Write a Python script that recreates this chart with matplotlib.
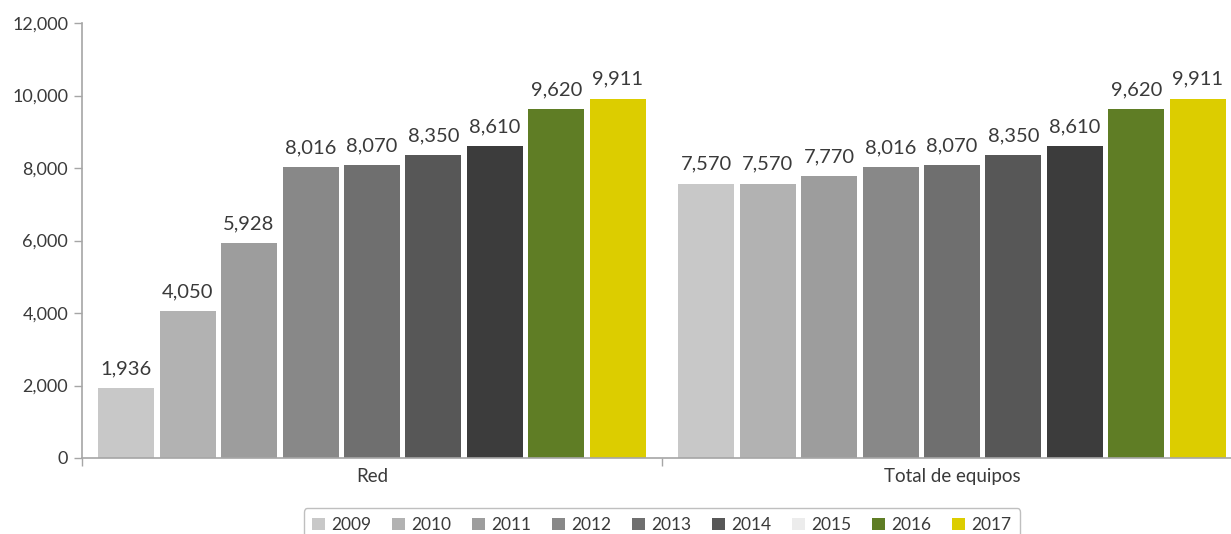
import numpy as np
import matplotlib
matplotlib.use("Agg")
import matplotlib.pyplot as plt
from matplotlib.patches import Patch
from matplotlib.ticker import FuncFormatter

plt.rcParams['font.family'] = ['Lato', 'DejaVu Sans']

# Data
categories = ['Red', 'Total de equipos']
years = ['2009', '2010', '2011', '2012', '2013', '2014', '2015', '2016', '2017']
red = [1936, 4050, 5928, 8016, 8070, 8350, 8610, 9620, 9911]
total = [7570, 7570, 7770, 8016, 8070, 8350, 8610, 9620, 9911]
series = [red, total]

bar_colors = ['#c8c8c8', '#b2b2b2', '#9d9d9d', '#888888', '#6f6f6f',
              '#575757', '#3c3c3c', '#5f7d25', '#dccd00']
legend_colors = ['#c8c8c8', '#b2b2b2', '#9d9d9d', '#888888', '#6f6f6f',
                 '#575757', '#ececec', '#5f7d25', '#dccd00']

text_color = '#3a3a3a'
axis_color = '#a6a6a6'

W, H = 1231, 534
fig = plt.figure(figsize=(W / 100, H / 100), dpi=100)
ax = fig.add_axes([82 / W, (H - 458) / H, 1160 / W, 435 / H])

slot = 0.106
width = 0.0966
n = len(years)
for g, vals in enumerate(series):
    for i, v in enumerate(vals):
        x = g + 0.5 + (i - (n - 1) / 2) * slot
        ax.bar(x, v, width=width, color=bar_colors[i], linewidth=0, zorder=2)
        ax.text(x, v + 300, f'{v:,}', ha='center', va='bottom',
                fontsize=14.5, color=text_color)

ax.set_xlim(0, 2)
ax.set_ylim(0, 12000)

# y axis
ax.set_yticks(np.arange(0, 12001, 2000))
ax.yaxis.set_major_formatter(FuncFormatter(lambda v, p: f'{int(v):,}'))
ax.tick_params(axis='y', direction='out', length=6, width=1, color=axis_color,
               labelsize=13, labelcolor=text_color, pad=4)

# x axis: boundary ticks, category labels between them
ax.set_xticks([0, 1, 2])
ax.set_xticklabels(['', '', ''])
ax.set_xticks([0.5, 1.5], minor=True)
ax.set_xticklabels(categories, minor=True)
ax.tick_params(axis='x', which='major', direction='out', length=6, width=1,
               color=axis_color)
ax.tick_params(axis='x', which='minor', length=0, labelsize=13.5,
               labelcolor=text_color, pad=7)

for s in ['top', 'right']:
    ax.spines[s].set_visible(False)
for s in ['left', 'bottom']:
    ax.spines[s].set_color(axis_color)
    ax.spines[s].set_linewidth(1.2)

handles = [Patch(facecolor=c, edgecolor='none') for c in legend_colors]
leg = fig.legend(handles, years, loc='center', ncol=9,
                 bbox_to_anchor=(662 / W, (H - 525) / H), frameon=True,
                 fancybox=True, edgecolor='#b0b0b0', fontsize=12.5,
                 handlelength=0.75, handleheight=0.75, handletextpad=0.35,
                 columnspacing=1.2, borderpad=0.5, labelcolor=text_color)
leg.get_frame().set_linewidth(1.0)

fig.savefig('out.png', dpi=100)
